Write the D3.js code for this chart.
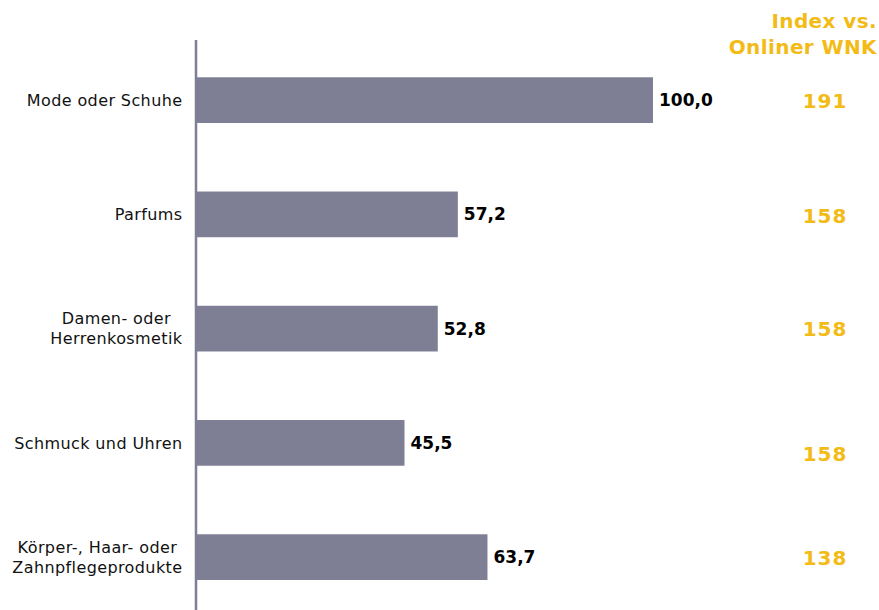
<!DOCTYPE html>
<html>
<head>
<meta charset="utf-8">
<script src="https://cdn.jsdelivr.net/npm/d3@7"></script>
<style>
  html, body { margin: 0; padding: 0; background: #fff; }
  svg { display: block; }
</style>
</head>
<body>
<svg id="chart" width="879" height="610"></svg>
<script>
// Categories (line breaks as drawn), share values and index vs. online users
const categories = [
  ["Mode oder Schuhe"],
  ["Parfums"],
  ["Damen- oder", "Herrenkosmetik"],
  ["Schmuck und Uhren"],
  ["Körper-, Haar- oder", "Zahnpflegeprodukte"]
];
const values = [100.0, 57.2, 52.8, 45.5, 63.7];
const indexValues = [191, 158, 158, 158, 138];
const headerLines = ["Index vs.", "Onliner WNK"];

const W = 879, H = 610;
const barColor = "#7e7e94";
const gold = "#f2bb16";
const font = "'DejaVu Sans', Verdana, sans-serif";

const svg = d3.select("#chart");

const x = d3.scaleLinear().domain([0, 100]).range([197, 653]);
const y = d3.scaleBand()
  .domain(d3.range(categories.length))
  .range([43, 614.25])
  .paddingInner(0.6)
  .paddingOuter(0.3);

// bars
svg.selectAll("rect.bar")
  .data(values)
  .join("rect")
  .attr("class", "bar")
  .attr("x", x(0))
  .attr("y", (d, i) => y(i))
  .attr("width", d => x(d) - x(0))
  .attr("height", y.bandwidth())
  .attr("fill", barColor);

// vertical category axis line
svg.append("line")
  .attr("x1", 196).attr("x2", 196)
  .attr("y1", 40).attr("y2", H)
  .attr("stroke", barColor)
  .attr("stroke-width", 2.5);

// value labels
const fmt = v => d3.format(".1f")(v).replace(".", ",");
svg.selectAll("text.val")
  .data(values)
  .join("text")
  .attr("class", "val")
  .attr("x", d => x(d) + 6)
  .attr("y", (d, i) => y(i) + y.bandwidth() / 2)
  .attr("dy", "0.36em")
  .attr("font-family", font)
  .attr("font-weight", "bold")
  .attr("font-size", 17)
  .attr("fill", "#000")
  .text(fmt);

// category labels: lines centred within a block that is right-aligned to the axis
const labelRight = 182.5;
const lineH = 20;
categories.forEach((lines, i) => {
  const g = svg.append("g");
  const cy = y(i) + y.bandwidth() / 2;
  const texts = lines.map((s, k) => g.append("text")
    .attr("font-family", font)
    .attr("font-size", 16)
    .attr("letter-spacing", 0.4)
    .attr("fill", "#111")
    .attr("text-anchor", "middle")
    .attr("y", cy + (k - (lines.length - 1) / 2) * lineH)
    .attr("dy", "0.36em")
    .text(s));
  const maxW = d3.max(texts, t => t.node().getComputedTextLength());
  texts.forEach(t => t.attr("x", labelRight - maxW / 2));
});

// index column
const idxX = 825;
const idxShift = [1, 1, 0, 11, 1];
svg.selectAll("text.idx")
  .data(indexValues)
  .join("text")
  .attr("class", "idx")
  .attr("x", idxX)
  .attr("y", (d, i) => y(i) + y.bandwidth() / 2 + idxShift[i])
  .attr("dy", "0.36em")
  .attr("text-anchor", "middle")
  .attr("font-family", font)
  .attr("font-weight", "bold")
  .attr("font-size", 20)
  .attr("letter-spacing", 1)
  .attr("fill", gold)
  .text(d => d);

// column header
svg.selectAll("text.hdr")
  .data(headerLines)
  .join("text")
  .attr("class", "hdr")
  .attr("x", 877)
  .attr("y", (d, i) => 28 + i * 26)
  .attr("text-anchor", "end")
  .attr("font-family", font)
  .attr("font-weight", "bold")
  .attr("font-size", 20)
  .attr("letter-spacing", 0.4)
  .attr("fill", gold)
  .text(d => d);
</script>
</body>
</html>
